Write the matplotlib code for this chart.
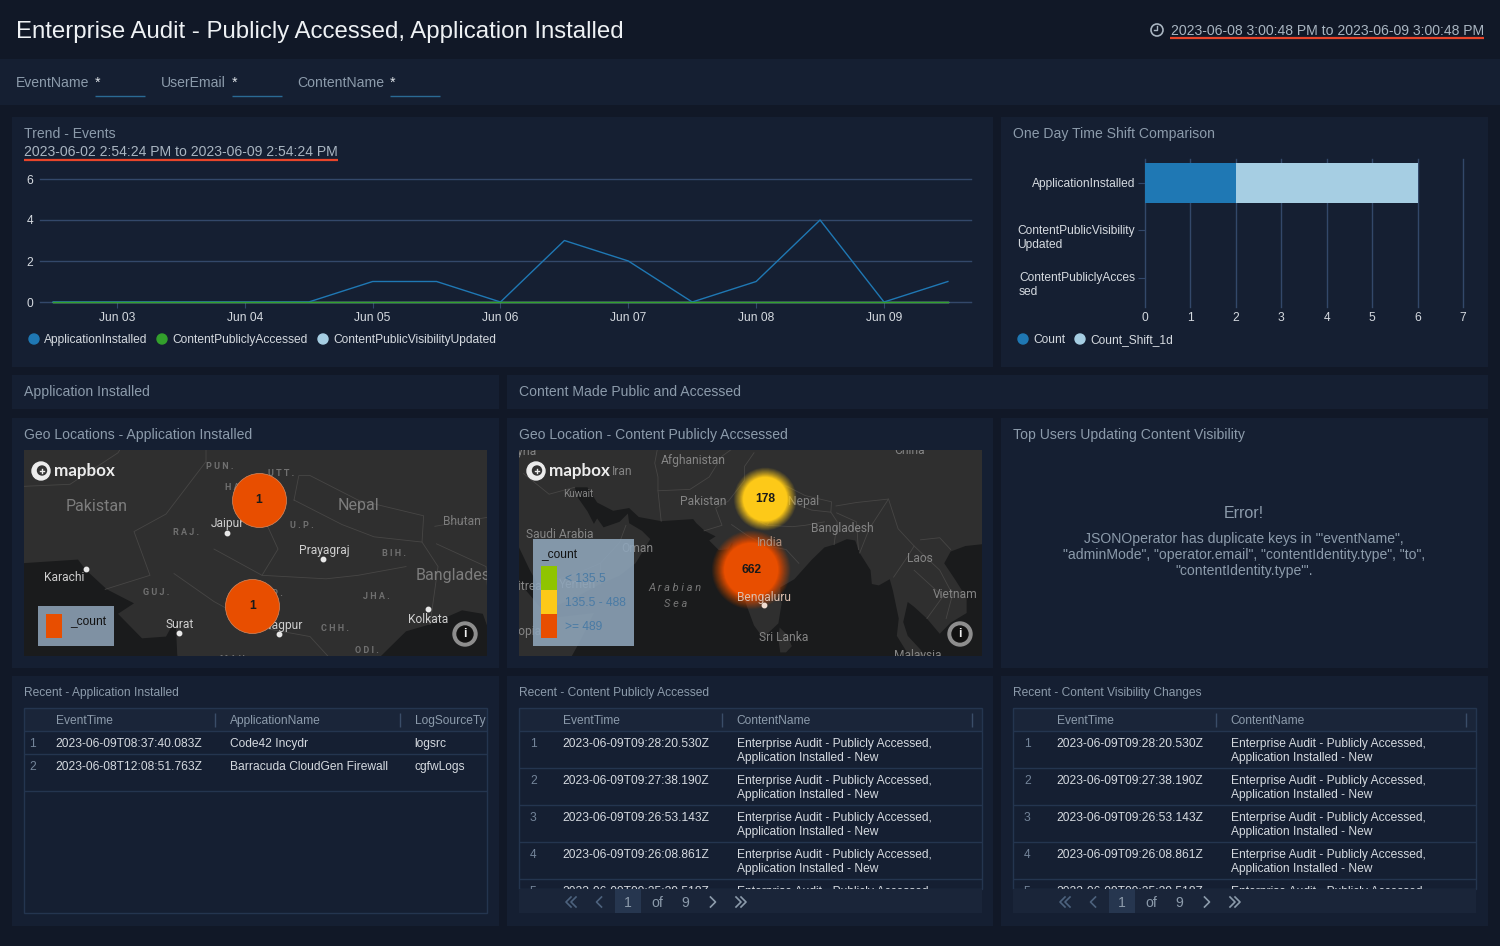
import matplotlib
matplotlib.use('Agg')
import matplotlib.pyplot as plt
import pandas as pd
from matplotlib.patches import Rectangle, Circle, Polygon
from matplotlib.transforms import Bbox, TransformedBbox, ScaledTranslation

plt.rcParams['font.family'] = ['Liberation Sans', 'DejaVu Sans']

# trend chart
trend_times = ['2023-06-02 12:00', '2023-06-03 00:00', '2023-06-03 12:00', '2023-06-04 00:00',
               '2023-06-04 12:00', '2023-06-05 00:00', '2023-06-05 12:00', '2023-06-06 00:00',
               '2023-06-06 12:00', '2023-06-07 00:00', '2023-06-07 12:00', '2023-06-08 00:00',
               '2023-06-08 12:00', '2023-06-09 00:00', '2023-06-09 12:00']
app_installed = [0, 0, 0, 0, 0, 1, 1, 0, 3, 2, 0, 1, 4, 0, 1]
content_accessed = [0, 0, 0, 0, 0, 0, 0, 0, 0, 0, 0, 0, 0, 0, 0]
visibility_updated = [0, 0, 0, 0, 0, 0, 0, 0, 0, 0, 0, 0, 0, 0, 0]
trend_ticks = ['2023-06-03', '2023-06-04', '2023-06-05', '2023-06-06', '2023-06-07', '2023-06-08', '2023-06-09']
trend_ticklabels = ['Jun 03', 'Jun 04', 'Jun 05', 'Jun 06', 'Jun 07', 'Jun 08', 'Jun 09']

# time shift chart
shift_cats = ['ApplicationInstalled', 'ContentPublicVisibility\nUpdated', 'ContentPubliclyAcces\nsed']
shift_count = [2, 0, 0]
shift_1d = [4, 0, 0]

# map clusters, lon / lat / count
left_lon = [77.8, 77.4]
left_lat = [28.8, 22.75]
left_count = [1, 1]
right_lon = [77.75, 75.55]
right_lat = [28.3, 18.05]
right_count = [178, 662]
legend_ranges = ['< 135.5', '135.5 - 488', '>= 489']

# tables
app_times = ['2023-06-09T08:37:40.083Z', '2023-06-08T12:08:51.763Z']
app_names = ['Code42 Incydr', 'Barracuda CloudGen Firewall']
app_sources = ['logsrc', 'cgfwLogs']
content_times = ['2023-06-09T09:28:20.530Z', '2023-06-09T09:27:38.190Z', '2023-06-09T09:26:53.143Z',
                 '2023-06-09T09:26:08.861Z', '2023-06-09T09:25:39.518Z']
content_name = 'Enterprise Audit - Publicly Accessed,\nApplication Installed - New'

BG = '#111827'
PANEL = '#151f32'
HEAD = '#1a2539'
GRID = '#33486a'
BORDER = '#24354f'
MUTED = '#8c9bab'
TEXT = '#d5dae0'
BLUE = '#1f78b4'
GREEN = '#33a02c'
LIGHT = '#a6cee3'
ORANGE = '#e84e00'
YELLOW = '#fdc918'
SEA = '#1a1b1c'
LAND = '#2f2f2f'
MAPFONT = 'Roboto'

W, H = 1500, 946
fig = plt.figure(figsize=(W / 100, H / 100), dpi=100, facecolor=BG)


def px_axes(x0, y0, x1, y1, z=1):
    return fig.add_axes([x0 / W, 1 - y1 / H, (x1 - x0) / W, (y1 - y0) / H], zorder=z)


def fs(px):
    return px * 0.72


bg = fig.add_axes([0, 0, 1, 1], zorder=0)
fg = fig.add_axes([0, 0, 1, 1], zorder=10)
for a in (bg, fg):
    a.set_xlim(0, W)
    a.set_ylim(H, 0)
    a.axis('off')
fg.patch.set_alpha(0)


def rect(a, x0, y0, x1, y1, color, **kw):
    a.add_patch(Rectangle((x0, y0), x1 - x0, y1 - y0, facecolor=color, edgecolor='none', **kw))


def hline(a, x0, x1, y, color=BORDER, lw=1.0, z=3):
    a.plot([x0, x1], [y, y], color=color, lw=lw, solid_capstyle='butt', zorder=z)


def vline(a, x, y0, y1, color=BORDER, lw=1.0, z=3):
    a.plot([x, x], [y0, y1], color=color, lw=lw, solid_capstyle='butt', zorder=z)


def label(a, x, y, s, px=14, color=MUTED, ha='left', **kw):
    return a.text(x, y + 0.4 + px * 0.05, s, fontsize=fs(px), color=color, ha=ha, va='center', **kw)


# panels
rect(bg, 0, 59, W, 105, PANEL)
panels = [(12, 117, 993, 367), (1001, 117, 1488, 367), (12, 375, 499, 409), (507, 375, 1488, 409),
          (12, 418, 499, 668), (507, 418, 993, 668), (1001, 418, 1488, 668),
          (12, 676, 499, 926), (507, 676, 993, 926), (1001, 676, 1488, 926)]
for p in panels:
    rect(bg, *p, PANEL)

# header
label(bg, 16, 30, 'Enterprise Audit - Publicly Accessed, Application Installed', px=24, color='#eef1f4')
label(bg, 1484, 30, '2023-06-08 3:00:48 PM to 2023-06-09 3:00:48 PM', color='#a9b5c1', ha='right')
hline(bg, 1170, 1484, 38, color='#e8452a', lw=1.6)
bg.add_patch(Circle((1157, 30), 6, facecolor='none', edgecolor='#a9b5c1', lw=1.2))
bg.plot([1157, 1157, 1154], [26.5, 30.5, 30.5], color='#a9b5c1', lw=1)

# filters
for name, nx, sx in [('EventName', 16, 95), ('UserEmail', 161, 232), ('ContentName', 297, 390)]:
    label(bg, nx, 82, name)
    label(bg, sx, 82, '*', color='#dfe4e9')
    hline(bg, sx, sx + 50, 96.5, color='#2a6a94')

# panel titles
label(bg, 24, 133, 'Trend - Events')
label(bg, 24, 151, '2023-06-02 2:54:24 PM to 2023-06-09 2:54:24 PM', color='#a9b5c1')
hline(bg, 24, 338, 160, color='#e8452a', lw=1.6)
label(bg, 1013, 133, 'One Day Time Shift Comparison')
label(bg, 24, 391, 'Application Installed')
label(bg, 519, 391, 'Content Made Public and Accessed')
label(bg, 24, 434, 'Geo Locations - Application Installed')
label(bg, 519, 434, 'Geo Location - Content Publicly Accsessed')
label(bg, 1013, 434, 'Top Users Updating Content Visibility')
label(bg, 24, 692, 'Recent - Application Installed', px=12)
label(bg, 519, 692, 'Recent - Content Publicly Accessed', px=12)
label(bg, 1013, 692, 'Recent - Content Visibility Changes', px=12)

# error panel
label(bg, 1244, 512, 'Error!', px=16, ha='center')
label(bg, 1244, 538, 'JSONOperator has duplicate keys in \'"eventName",', ha='center')
label(bg, 1244, 554, '"adminMode", "operator.email", "contentIdentity.type", "to",', ha='center')
label(bg, 1244, 570, '"contentIdentity.type"\'.', ha='center')

# trend chart
ax = px_axes(40, 179, 971, 302, z=2)
ax.patch.set_alpha(0)
times = pd.to_datetime(trend_times)
tick_pos = pd.to_datetime(trend_ticks)
ax.plot(times, visibility_updated, color=LIGHT, lw=1, zorder=3, clip_on=False)
ax.plot(times, app_installed, color=BLUE, lw=1, zorder=4, clip_on=False)
ax.plot(times, content_accessed, color=GREEN, lw=1, zorder=5, clip_on=False)
ax.set_xlim(tick_pos[0] - pd.Timedelta(days=77 / 127.83), tick_pos[0] + pd.Timedelta(days=854 / 127.83))
ax.set_ylim(0, 6)
ax.set_yticks([0, 2, 4, 6])
ax.set_xticks(tick_pos)
ax.set_xticklabels(trend_ticklabels)
ax.grid(axis='y', color=GRID, lw=1)
ax.set_axisbelow(True)
ax.tick_params(axis='x', length=4, color=GRID, labelcolor=TEXT, labelsize=fs(12), pad=3.2)
ax.tick_params(axis='y', length=0, labelcolor=TEXT, labelsize=fs(12), pad=5)
for t in ax.get_yticklabels():
    t.set_va('center_baseline')
for s in ax.spines.values():
    s.set_visible(False)
ax.spines['bottom'].set_visible(True)
ax.spines['bottom'].set_color(GRID)
for line in ax.get_ygridlines():
    line.set_clip_on(False)

for dot_x, c, s in [(34, BLUE, 'ApplicationInstalled'), (162, GREEN, 'ContentPubliclyAccessed'),
                    (323, LIGHT, 'ContentPublicVisibilityUpdated')]:
    bg.add_patch(Circle((dot_x, 339), 5, color=c))
    label(bg, dot_x + 10, 339, s, px=12, color=TEXT)

# time shift chart
ax = px_axes(1145, 159, 1463, 307, z=2)
ax.patch.set_alpha(0)
ypos = range(len(shift_cats))
ax.barh(ypos, shift_count, height=40 / 47.5, color=BLUE, zorder=3)
ax.barh(ypos, shift_1d, left=shift_count, height=40 / 47.5, color=LIGHT, zorder=3)
ax.set_xlim(0, 7)
ax.set_ylim(124 / 47.5, -24 / 47.5)
ax.set_xticks(range(8))
ax.set_yticks(list(ypos))
ax.set_yticklabels(shift_cats, multialignment='left', linespacing=1.17)
ax.grid(axis='x', color=GRID, lw=1)
ax.set_axisbelow(True)
ax.tick_params(axis='x', length=0, labelcolor=TEXT, labelsize=fs(12), pad=3.5)
ax.tick_params(axis='y', length=5, color=GRID, labelcolor=TEXT, labelsize=fs(12), pad=2.2)
for t in ax.get_yticklabels():
    shift_y = -0.05 if '\n' in t.get_text() else 0.01
    t.set_transform(t.get_transform() + ScaledTranslation(0, shift_y, fig.dpi_scale_trans))
for s in ax.spines.values():
    s.set_visible(False)
for line in ax.get_xgridlines():
    line.set_clip_on(False)

for dot_x, c, s in [(1023, BLUE, 'Count'), (1080, LIGHT, 'Count_Shift_1d')]:
    bg.add_patch(Circle((dot_x, 339), 5, color=c))
    label(bg, dot_x + 10, 339, s, px=12, color=TEXT)

# basemap, rough coast in lon / lat
asia = [(35, 36), (35, 28), (38, 24), (39.2, 21.5), (41, 18), (42.8, 15), (43.4, 12.7), (45, 12.8), (48, 14),
        (52, 16), (55, 17.2), (57.5, 19), (59.8, 22.5), (58.5, 23.7), (56.5, 24.8), (56.3, 26.2), (55, 25),
        (52.5, 24.2), (51.5, 25.5), (51, 24.7), (50, 26.5), (48.5, 28.5), (48, 30), (50, 30), (51.5, 27.8),
        (54, 26.6), (56.5, 27), (58, 25.7), (61.5, 25.1), (66.5, 25.4), (67, 24.8), (68.3, 23.7), (70, 22.9),
        (69, 22.3), (70.5, 20.9), (72, 21), (72.6, 22), (72.7, 20), (73, 18), (73.8, 15.5), (74.8, 13),
        (76, 10), (77.5, 8.1), (78.2, 8.9), (79.8, 10.3), (80.3, 13.1), (80.1, 15.5), (82.3, 16.7), (85, 19.5),
        (87, 21.3), (88.5, 21.7), (90.5, 22.5), (91.8, 22.3), (92.5, 20.5), (94.2, 18), (94.4, 16), (95.5, 15.8),
        (97.2, 16.7), (97.7, 15), (98.6, 11), (98.3, 8.5), (100.3, 5.5), (103.4, 4.5), (102, 6.5), (100, 8.5),
        (99.3, 10.5), (100, 13.4), (101, 12.7), (103, 11), (105, 8.8), (106.7, 10.4), (109.2, 11.8), (109.2, 14),
        (107.5, 16.5), (105.7, 19), (106.7, 20.7), (109, 21.5), (112, 21.8), (116, 23), (116, 40), (35, 40)]
sri_lanka = [(80, 9.7), (81.2, 8.6), (81.9, 7), (81, 6.1), (80.1, 6.1), (79.8, 8)]
africa = [(30, 30), (34, 28), (35.5, 24), (37.3, 21), (38.5, 18), (40, 15.5), (43.2, 12), (43.5, 11), (51, 11.8),
          (49, 8), (46, 3), (30, 0)]
borders = [[(68.2, 23.7), (71, 24.5), (70, 27), (72, 28), (74.5, 31), (74.5, 33), (76, 35)],
           [(61.5, 25.1), (61, 29.5), (61, 31.5), (60.5, 33.5), (61, 36)],
           [(61, 29.5), (66, 29.7), (69, 31.5), (71, 34.5), (74, 36.5)],
           [(80, 28.8), (80.3, 30.2), (81, 30.2), (84, 28.8), (88.1, 27.9), (88, 26.4), (85, 26.7), (83, 27.4), (80, 28.8)],
           [(88, 26.4), (89, 25), (88.5, 21.7)], [(88.9, 26.3), (92, 25), (92.3, 21)],
           [(88.8, 27.3), (92, 27.8), (97, 28.3), (94, 24), (92.5, 20.5)],
           [(97, 28.3), (98.5, 24), (101, 21.5), (100, 20), (97.8, 17)],
           [(101, 21.5), (105, 18), (107, 14.5), (106, 11)], [(102, 22.4), (105, 22.7), (106.7, 21)],
           [(101, 18), (105.5, 14.2), (103, 11)], [(48, 30), (44, 29), (40, 32)], [(52, 16), (52, 19), (55, 22), (56, 24.5)],
           [(43.3, 16.5), (47, 17), (52, 19)], [(75, 26), (78, 24.5), (82, 24.3), (84, 24.5), (87, 25)],
           [(72.5, 24.6), (75, 23), (78, 21.5), (81, 21), (83, 19)], [(77, 30), (79, 26), (78, 24.5)]]


def map_axes(x0, x1, lon0, lon1, lat0, lat1):
    m = px_axes(x0, 450, x1, 656, z=3)
    m.set_facecolor(SEA)
    for poly in (asia, sri_lanka, africa):
        m.add_patch(Polygon(poly, facecolor=LAND, edgecolor='none', zorder=1))
    for b in borders:
        m.plot([p[0] for p in b], [p[1] for p in b], color='#474645', lw=0.6, zorder=2)
    m.set_xlim(lon0, lon1)
    m.set_ylim(lat0, lat1)
    m.set_xticks([])
    m.set_yticks([])
    for s in m.spines.values():
        s.set_visible(False)
    return m


def map_text(m, x, y, s, px=12, color='#9a9a9a', zorder=4, **kw):
    # labels are placed in screen pixels, the axes clips them to the map
    return m.text(x, y, s, transform=bg.transData, fontsize=fs(px), color=color, ha='center', va='center',
                  family=MAPFONT, clip_on=True, zorder=zorder, **kw)


left = map_axes(24, 487, 63.125, 92.06, 19.89, 31.66)
right = map_axes(519, 982, 39.3, 111.6, 5.58, 35.4)

for x, y, s in [(97, 506, 'Pakistan'), (358, 505, 'Nepal'), (458, 575, 'Bangladesh')]:
    map_text(left, x, y, s, px=16, color='#7d7d7d')
map_text(left, 462, 521, 'Bhutan', color='#7d7d7d')
for x, y, s in [(220, 466, 'P U N .'), (232, 487, 'H A'), (281, 473, 'U T T .'), (186, 532, 'R A J .'),
                (302, 525, 'U . P .'), (394, 553, 'B I H .'), (156, 592, 'G U J .'), (376, 596, 'J H A .'),
                (335, 628, 'C H H .'), (367, 650, 'O D I .'), (270, 593, 'M . P .'), (235, 659, 'M A H .')]:
    map_text(left, x, y, s, px=9, color='#707070', fontweight='bold')
for x, y, s in [(227, 523, 'Jaipur'), (324, 550, 'Prayagraj'), (64, 577, 'Karachi'), (180, 624, 'Surat'),
                (283, 625, 'Nagpur'), (428, 619, 'Kolkata')]:
    map_text(left, x, y, s, color='#cfcfcf')
for x, y in [(227, 533), (323, 559), (86, 569), (179, 633), (279, 634), (428, 609)]:
    left.plot(x, y, 'o', ms=3.2, color='#e8e8e8', transform=bg.transData, zorder=4)

for x, y, s in [(693, 460, 'Afghanistan'), (622, 471, 'Iran'), (703, 501, 'Pakistan'), (804, 501, 'Nepal'),
                (560, 534, 'Saudi Arabia'), (637, 548, 'Oman'), (578, 584, 'Yemen'),
                (842, 528, 'Bangladesh'), (920, 558, 'Laos'), (955, 594, 'Vietnam'), (784, 637, 'Sri Lanka'),
                (918, 655, 'Malaysia'), (910, 450, 'China'), (524, 451, 'Syria'), (524, 586, 'Eritrea'),
                (520, 631, 'Ethiopia')]:
    map_text(right, x, y, s, color='#858585')
map_text(right, 578, 494, 'Kuwait', px=10, color='#858585')
map_text(right, 770, 542, 'India', color='#b08f7c', zorder=7)
map_text(right, 764, 597, 'Bengaluru', color='#dcbfae', zorder=7)
right.plot(764, 605, 'o', ms=3.2, color='#f0dcd0', transform=bg.transData, zorder=7)
map_text(right, 675, 588, 'A r a b i a n', px=11, color='#777777', style='italic')
map_text(right, 676, 604, 'S e a', px=11, color='#777777', style='italic')

# clusters
for lon, lat, n in zip(left_lon, left_lat, left_count):
    left.scatter([lon], [lat], s=1512, color=ORANGE, edgecolor='#d88a60', lw=0.5, zorder=5)
    left.text(lon, lat, str(n), fontsize=fs(12), fontweight='bold', color='#1a1a1a', ha='center', va='center', zorder=6)


def glow(m, lon, lat, n, color, r_core, r_out):
    # stacked discs, each alpha picked so the total opacity ramps up evenly towards the core
    steps = 24
    prev = 0.0
    for i in range(1, steps + 1):
        target = i / steps
        a = 1 - (1 - target) / (1 - prev)
        prev = target
        r = r_out - (r_out - r_core) * target
        d = 2 * r * 0.72
        m.scatter([lon], [lat], s=d * d, color=color, alpha=a, edgecolor='none', zorder=5)
    m.text(lon, lat, str(n), fontsize=fs(12), fontweight='bold', color='#1a1a1a', ha='center', va='center', zorder=6)


glow(right, right_lon[0], right_lat[0], right_count[0], YELLOW, 22, 32)
glow(right, right_lon[1], right_lat[1], right_count[1], ORANGE, 27, 40)

# map overlays
for ox in (41, 536):
    fg.add_patch(Circle((ox, 471), 9, color='#ececec', zorder=5))
    fg.add_patch(Circle((ox + 1, 470.5), 4.5, color='#333333', zorder=6))
    fg.plot([ox - 1, ox + 3], [470.5, 470.5], color='#ececec', lw=1, zorder=7)
    fg.plot([ox + 1, ox + 1], [468.5, 472.5], color='#ececec', lw=1, zorder=7)
    fg.text(ox + 13, 471, 'mapbox', fontsize=fs(17), fontweight='bold', family='Lato', color='#ececec',
            ha='left', va='center', zorder=6)
for ox in (465, 960):
    fg.add_patch(Circle((ox, 634), 12, color='#8e8e8e', zorder=5))
    fg.add_patch(Circle((ox, 634), 8, color='#111111', zorder=6))
    fg.text(ox, 634, 'i', fontsize=fs(12), fontweight='bold', color='#eeeeee', ha='center', va='center', zorder=7)

rect(fg, 38, 606, 114, 646, '#7f91a3', zorder=5)
rect(fg, 46, 614, 62, 638, ORANGE, zorder=6)
label(fg, 70, 621, '_count', px=12, color='#111111', zorder=6)

rect(fg, 533, 539, 634, 646, '#8fa6bb', alpha=0.88, zorder=5)
label(fg, 541, 554, '_count', px=12, color='#111111', zorder=6)
for y0, c, s in zip([566, 590, 614], ['#8fc400', YELLOW, ORANGE], legend_ranges):
    rect(fg, 541, y0, 557, y0 + 24, c, zorder=6)
    label(fg, 565, y0 + 12, s, px=12, color='#4a7ba5', zorder=6)


# tables
def clip(t, x0, y0, x1, y1):
    t.set_clip_box(TransformedBbox(Bbox([[x0, y0], [x1, y1]]), bg.transData))
    t.set_clip_on(True)
    return t


def chevrons(x, n, direction, color):
    # pagination icons
    for k in range(n):
        cx = x + (k - (n - 1) / 2) * 5
        bg.plot([cx - direction * 2.5, cx + direction * 2.5, cx - direction * 2.5], [897, 902, 907], color=color,
                lw=1.2, zorder=6)


rect(bg, 24, 708, 487, 731, HEAD)
bg.add_patch(Rectangle((24, 708), 462.5, 205, fill=False, edgecolor=BORDER, lw=1, zorder=3))
for y in [731, 754, 791]:
    hline(bg, 24, 486.5, y)
for x in [214.5, 399.5]:
    vline(bg, x, 713, 727, color='#3a4d68')
label(bg, 56, 720, 'EventTime', px=12)
label(bg, 230, 720, 'ApplicationName', px=12)
clip(label(bg, 415, 720, 'LogSourceType', px=12), 24, 709, 486, 731)
for i in range(2):
    y = 743 + 23 * i
    label(bg, 29, y, str(i + 1), px=12, color='#74859a')
    label(bg, 55.5, y, app_times[i], px=12, color=TEXT)
    label(bg, 230, y, app_names[i], px=12, color=TEXT)
    label(bg, 414.5, y, app_sources[i], px=12, color=TEXT)

for ox in (0, 494):
    x0, x1 = 519 + ox, 982 + ox
    rect(bg, x0, 708, x1, 731, HEAD)
    bg.add_patch(Rectangle((x0, 708), 462.5, 181, fill=False, edgecolor=BORDER, lw=1, zorder=3))
    vline(bg, 721.5 + ox, 713, 727, color='#3a4d68')
    vline(bg, 971.5 + ox, 713, 727, color='#3a4d68')
    label(bg, 563 + ox, 720, 'EventTime', px=12)
    label(bg, 736.5 + ox, 720, 'ContentName', px=12)
    for y in [731, 768, 805, 842, 879]:
        hline(bg, x0, x1, y)
    for i in range(5):
        y = 736 + 37 * i
        clip(label(bg, 530 + ox, y + 7, str(i + 1), px=12, color='#74859a'), x0, 709, x1, 889)
        clip(label(bg, 562.5 + ox, y + 7, content_times[i], px=12, color=TEXT), x0, 709, x1, 889)
        clip(bg.text(737 + ox, y + 15, content_name, fontsize=fs(12), color=TEXT, va='center', linespacing=1.25),
             x0, 709, x1, 889)
    rect(bg, x0, 889, x1, 913, HEAD, zorder=4)
    rect(bg, 615 + ox, 889, 641 + ox, 913, '#26364f', zorder=5)
    for x, s in [(628, '1'), (657, 'of'), (685, '9')]:
        label(bg, x + ox, 901.5, s, color='#8c9bab', ha='center', zorder=6)
    chevrons(571 + ox, 2, -1, '#4d627d')
    chevrons(599 + ox, 1, -1, '#4d627d')
    chevrons(713 + ox, 1, 1, '#8c9bab')
    chevrons(741 + ox, 2, 1, '#8c9bab')

fig.savefig('out.png', dpi=100, facecolor=BG)
